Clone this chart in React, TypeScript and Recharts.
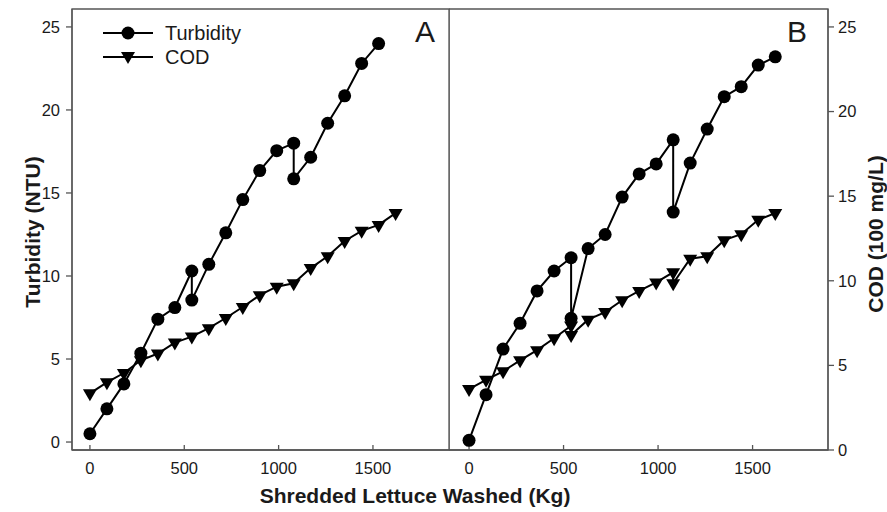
import React from 'react'
import { LineChart, Line, XAxis, YAxis, Legend, ReferenceArea } from 'recharts'

// Panel A
const turbAKg = [0, 90, 180, 270, 360, 450, 540, 540, 630, 720, 810, 900, 990, 1080, 1080, 1170, 1260, 1350, 1440, 1530]
const turbA = [0.5, 2.0, 3.5, 5.35, 7.4, 8.1, 10.3, 8.55, 10.7, 12.6, 14.6, 16.35, 17.55, 18.0, 15.85, 17.15, 19.2, 20.85, 22.8, 24.0]
const codAKg = [0, 90, 180, 270, 360, 450, 540, 630, 720, 810, 900, 990, 1080, 1170, 1260, 1350, 1440, 1530, 1620]
const codA = [3.35, 4.0, 4.55, 5.3, 5.7, 6.35, 6.7, 7.2, 7.8, 8.45, 9.15, 9.65, 9.85, 10.75, 11.45, 12.35, 12.95, 13.3, 14.0]

// Panel B
const turbBKg = [0, 90, 180, 270, 360, 450, 540, 540, 630, 720, 810, 900, 990, 1080, 1080, 1170, 1260, 1350, 1440, 1530, 1620]
const turbB = [0.1, 2.85, 5.6, 7.15, 9.1, 10.3, 11.1, 7.45, 11.65, 12.5, 14.75, 16.15, 16.75, 18.2, 13.85, 16.8, 18.85, 20.8, 21.4, 22.7, 23.2]
const codBKg = [0, 90, 180, 270, 360, 450, 540, 540, 630, 720, 810, 900, 990, 1080, 1080, 1170, 1260, 1350, 1440, 1530, 1620]
const codB = [3.6, 4.15, 4.65, 5.3, 5.9, 6.6, 7.35, 6.8, 7.7, 8.15, 8.85, 9.4, 9.9, 10.5, 9.85, 11.3, 11.45, 12.4, 12.75, 13.6, 14.0]

const xTicks = [0, 500, 1000, 1500]
const yTicks = [0, 5, 10, 15, 20, 25]
const legendOrder = ['Turbidity', 'COD']

const FONT = '"Liberation Sans", Arial, sans-serif'
const FRAME = '#555'
const TEXT = '#1a1a1a'

// axis ranges
const xDomA: [number, number] = [-95, 1903]
const xDomB: [number, number] = [-106, 1899]
const turbDom: [number, number] = [-0.48, 26.08]
const codDom: [number, number] = [0, 26.06]

const toRows = (kg: number[], vals: number[]) => kg.map((x, i) => ({ x, v: vals[i] }))

const renderCircle = (p: any) => {
  if (p.cx == null || p.cy == null) return <g key={`c-${p.index}`} />
  return <circle key={`c-${p.index}`} cx={p.cx} cy={p.cy} r={6.5} fill="#000" />
}

const triPath = (cx: number, cy: number) => `M${cx - 7},${cy - 4} L${cx + 7},${cy - 4} L${cx},${cy + 8} Z`

const renderTri = (p: any) => {
  if (p.cx == null || p.cy == null) return <g key={`t-${p.index}`} />
  return <path key={`t-${p.index}`} d={triPath(p.cx, p.cy)} fill="#000" />
}

const LegendBox = ({ payload }: any) => {
  const items = [...(payload || [])].sort((a: any, b: any) => legendOrder.indexOf(a.value) - legendOrder.indexOf(b.value))
  return (
    <div style={{ fontFamily: FONT, fontSize: 20, color: TEXT }}>
      {items.map((p: any) => (
        <div key={p.value} style={{ display: 'flex', alignItems: 'center', height: 24 }}>
          <svg width={50} height={20}>
            <line x1={0} x2={50} y1={10} y2={10} stroke="#000" strokeWidth={2} />
            {p.value === 'COD' ? <path d={triPath(25, 9)} fill="#000" /> : <circle cx={25} cy={10} r={6.5} fill="#000" />}
          </svg>
          <span style={{ marginLeft: 12 }}>{p.value}</span>
        </div>
      ))}
    </div>
  )
}

const tickStyle = { fontSize: 16.5, fill: TEXT, fontFamily: FONT }
const axisLine = { stroke: FRAME, strokeWidth: 1.3 }
const tickLine = { stroke: FRAME, strokeWidth: 1.3 }

export default function App() {
  const turbAData = toRows(turbAKg, turbA)
  const codAData = toRows(codAKg, codA)
  const turbBData = toRows(turbBKg, turbB)
  const codBData = toRows(codBKg, codB)

  return (
    <div style={{ position: 'absolute', left: 0, top: 0, width: 887, height: 512, background: '#fff', fontFamily: FONT }}>
      <div style={{ position: 'absolute', left: 0, top: 0 }}>
        <LineChart width={450} height={512} margin={{ top: 9, right: 1, bottom: 0, left: 0 }}>
          <XAxis
            xAxisId="kg"
            type="number"
            dataKey="x"
            domain={xDomA}
            ticks={xTicks}
            interval={0}
            allowDataOverflow
            height={62}
            tickSize={-5}
            tickMargin={17}
            axisLine={axisLine}
            tickLine={tickLine}
            tick={tickStyle}
          />
          <YAxis
            yAxisId="turb"
            type="number"
            domain={turbDom}
            ticks={yTicks}
            interval={0}
            allowDataOverflow
            width={72}
            tickSize={6}
            tickMargin={6}
            axisLine={axisLine}
            tickLine={tickLine}
            tick={tickStyle}
          />
          <YAxis yAxisId="cod" orientation="right" type="number" domain={codDom} allowDataOverflow width={0} tick={false} tickLine={false} axisLine={axisLine} />
          <ReferenceArea
            xAxisId="kg"
            yAxisId="turb"
            x1={xDomA[0]}
            x2={xDomA[1]}
            y1={turbDom[0]}
            y2={turbDom[1]}
            ifOverflow="visible"
            fill="none"
            fillOpacity={0}
            stroke={FRAME}
            strokeWidth={1.3}
          />
          <Legend
            layout="vertical"
            align="center"
            verticalAlign="middle"
            content={<LegendBox />}
            wrapperStyle={{ top: 21, left: 103, width: 'auto', height: 'auto' }}
          />
          <Line data={turbAData} name="Turbidity" xAxisId="kg" yAxisId="turb" dataKey="v" type="linear" stroke="#000" strokeWidth={2} dot={renderCircle} activeDot={false} isAnimationActive={false} />
          <Line data={codAData} name="COD" xAxisId="kg" yAxisId="cod" dataKey="v" type="linear" stroke="#000" strokeWidth={2} dot={renderTri} activeDot={false} isAnimationActive={false} />
        </LineChart>
      </div>

      <div style={{ position: 'absolute', left: 449, top: 0 }}>
        <LineChart width={438} height={512} margin={{ top: 9, right: 0, bottom: 0, left: 0 }}>
          <XAxis
            xAxisId="kg"
            type="number"
            dataKey="x"
            domain={xDomB}
            ticks={xTicks}
            interval={0}
            allowDataOverflow
            height={62}
            tickSize={-5}
            tickMargin={17}
            axisLine={axisLine}
            tickLine={tickLine}
            tick={tickStyle}
          />
          <YAxis
            yAxisId="turb"
            type="number"
            domain={turbDom}
            ticks={yTicks}
            interval={0}
            allowDataOverflow
            width={0}
            tickSize={-5}
            tick={false}
            axisLine={axisLine}
            tickLine={tickLine}
          />
          <YAxis
            yAxisId="cod"
            orientation="right"
            type="number"
            domain={codDom}
            ticks={yTicks}
            interval={0}
            allowDataOverflow
            width={59}
            tickSize={6}
            tickMargin={4}
            axisLine={axisLine}
            tickLine={tickLine}
            tick={tickStyle}
          />
          <ReferenceArea
            xAxisId="kg"
            yAxisId="turb"
            x1={xDomB[0]}
            x2={xDomB[1]}
            y1={turbDom[0]}
            y2={turbDom[1]}
            ifOverflow="visible"
            fill="none"
            fillOpacity={0}
            stroke={FRAME}
            strokeWidth={1.3}
          />
          <Line data={turbBData} name="Turbidity" xAxisId="kg" yAxisId="turb" dataKey="v" type="linear" stroke="#000" strokeWidth={2} dot={renderCircle} activeDot={false} isAnimationActive={false} />
          <Line data={codBData} name="COD" xAxisId="kg" yAxisId="cod" dataKey="v" type="linear" stroke="#000" strokeWidth={2} dot={renderTri} activeDot={false} isAnimationActive={false} />
        </LineChart>
      </div>

      <div style={{ position: 'absolute', left: 415, top: 17, fontSize: 30, lineHeight: 1, color: TEXT }}>A</div>
      <div style={{ position: 'absolute', left: 787, top: 17, fontSize: 30, lineHeight: 1, color: TEXT }}>B</div>

      <div style={{ position: 'absolute', left: 415, top: 496, transform: 'translate(-50%, -50%)', fontSize: 21, fontWeight: 700, color: TEXT, whiteSpace: 'nowrap' }}>
        Shredded Lettuce Washed (Kg)
      </div>
      <div style={{ position: 'absolute', left: 33, top: 232, transform: 'translate(-50%, -50%) rotate(-90deg)', fontSize: 21, fontWeight: 700, color: TEXT, whiteSpace: 'nowrap' }}>
        Turbidity (NTU)
      </div>
      <div style={{ position: 'absolute', left: 876, top: 234, transform: 'translate(-50%, -50%) rotate(-90deg)', fontSize: 21, fontWeight: 700, color: TEXT, whiteSpace: 'nowrap' }}>
        COD (100 mg/L)
      </div>
    </div>
  )
}
